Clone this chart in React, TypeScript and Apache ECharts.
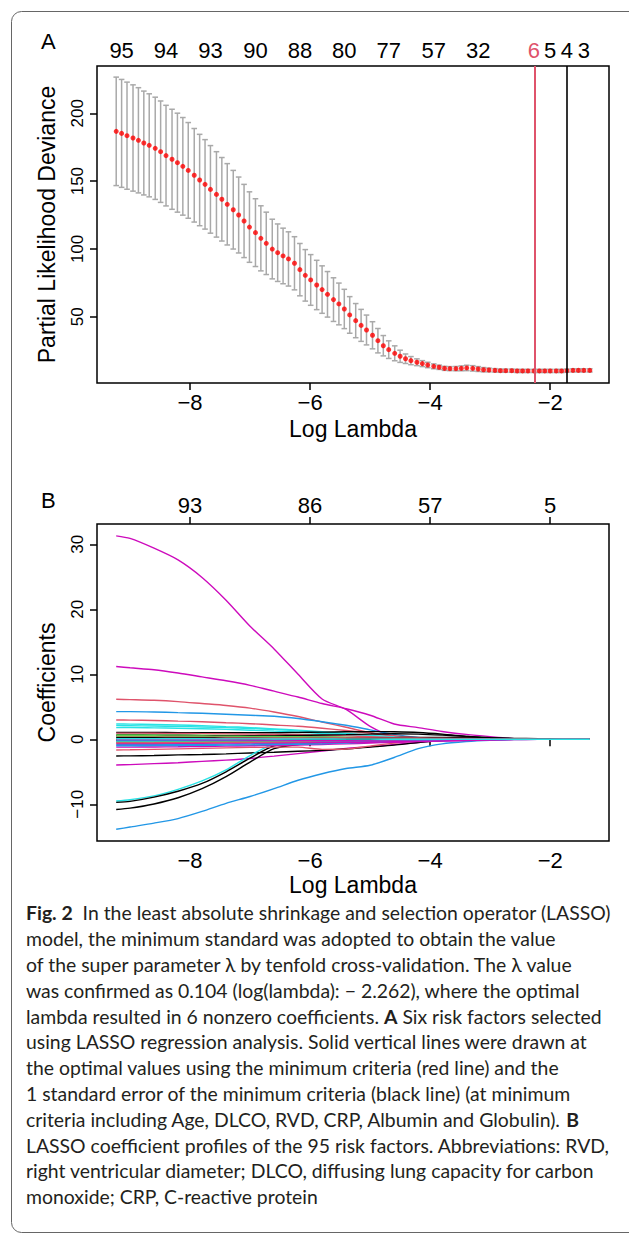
import React, { useEffect, useRef } from "react";
import * as echarts from "echarts";

// ---------- Panel A data (cross-validation curve) ----------
const logLambda = [
  -9.23, -9.14, -9.05, -8.95, -8.86, -8.77, -8.68, -8.58, -8.49, -8.4,
  -8.3, -8.21, -8.12, -8.03, -7.93, -7.84, -7.75, -7.66, -7.56, -7.47,
  -7.38, -7.28, -7.19, -7.1, -7.01, -6.91, -6.82, -6.73, -6.63, -6.54,
  -6.45, -6.36, -6.26, -6.17, -6.08, -5.99, -5.89, -5.8, -5.71, -5.61,
  -5.52, -5.43, -5.34, -5.24, -5.15, -5.06, -4.96, -4.87, -4.78, -4.69,
  -4.59, -4.5, -4.41, -4.32, -4.22, -4.13, -4.04, -3.94, -3.85, -3.76,
  -3.67, -3.57, -3.48, -3.39, -3.29, -3.2, -3.11, -3.02, -2.92, -2.83,
  -2.74, -2.64, -2.55, -2.46, -2.37, -2.27, -2.18, -2.09, -2.0, -1.9,
  -1.81, -1.72, -1.62, -1.53, -1.44, -1.34,
];
const cvMean = [
  186.7, 185.2, 183.5, 181.8, 180.1, 178.1, 176.4, 174.2, 171.7, 168.8,
  166.1, 163.6, 160.9, 157.9, 154.3, 150.8, 147.6, 143.9, 140.2, 136.6,
  132.9, 128.9, 125.0, 120.6, 116.1, 112.0, 107.8, 104.1, 99.9, 97.2,
  94.8, 92.6, 89.4, 84.7, 80.5, 77.1, 73.4, 70.0, 66.5, 62.6,
  59.4, 55.7, 51.3, 47.1, 43.6, 40.2, 36.3, 32.3, 28.6, 25.7,
  23.0, 20.8, 19.0, 17.6, 16.4, 15.4, 14.4, 13.4, 12.7, 11.9,
  11.7, 11.7, 11.9, 12.2, 11.9, 11.4, 10.9, 10.7, 10.4, 10.2,
  10.2, 10.2, 10.0, 10.0, 10.0, 10.0, 10.0, 10.0, 10.0, 10.0,
  10.0, 10.2, 10.4, 10.4, 10.4, 10.4,
];
const cvSd = [
  40, 39.8, 39.5, 39.2, 38.8, 38.3, 38.0, 37.7, 37.4, 37.1,
  36.9, 36.5, 36.0, 35.3, 34.5, 33.7, 33.0, 32.3, 31.5, 30.8,
  30.0, 29.0, 28.0, 27.0, 26.0, 25.0, 24.0, 23.0, 22.0, 21.2,
  20.5, 20.0, 19.6, 19.3, 19.0, 18.7, 18.2, 17.5, 16.8, 16.1,
  15.4, 14.5, 13.5, 12.6, 11.8, 11.0, 10.0, 9.0, 7.5, 6.5,
  5.5, 4.5, 3.5, 3.0, 2.5, 2.2, 2.0, 1.8, 1.6, 1.5,
  1.5, 1.6, 1.8, 2.0, 2.0, 1.8, 1.6, 1.4, 1.3, 1.2,
  1.2, 1.2, 1.2, 1.2, 1.2, 1.2, 1.2, 1.2, 1.2, 1.2,
  1.2, 1.2, 1.2, 1.2, 1.2, 1.2,
];
const nzeroIndex = [1, 9, 17, 25, 33, 41, 49, 57, 65, 75, 78, 81, 84];
const nzeroLabels = ["95", "94", "93", "90", "88", "80", "77", "57", "32", "6", "5", "4", "3"];
const lambdaMinLog = -2.262;
const lambda1seLog = -1.72;
const devianceTicks = [50, 100, 150, 200];

// ---------- Shared x axis ----------
const xTicks = [-8, -6, -4, -2];
const xMin = -9.55;
const xMax = -1.02;

// ---------- Panel B data (coefficient profiles) ----------
const coefTicks = [-10, 0, 10, 20, 30];
const dfTopLabels = ["93", "86", "57", "5"];
const coefLogLambda = [
  -9.23, -9.0, -8.6, -8.2, -7.8, -7.4, -7.0, -6.6, -6.2, -5.8, -5.4,
  -5.0, -4.6, -4.2, -3.8, -3.4, -3.0, -2.6, -2.2, -1.8, -1.34,
];
const pathM1 = [31.3, 30.9, 29.4, 27.6, 24.9, 21.4, 17.4, 13.9, 10.0, 6.2, 4.6, 2.0, 0.4, 0.15, 0.05, 0, 0, 0, 0, 0, 0];
const pathM2 = [11.2, 11.0, 10.7, 10.2, 9.6, 9.0, 8.3, 7.4, 6.5, 5.5, 4.7, 3.7, 2.35, 1.8, 1.2, 0.75, 0.4, 0.1, 0, 0, 0];
const pathR1 = [6.15, 6.1, 6.0, 5.8, 5.5, 5.2, 4.8, 4.2, 3.5, 2.65, 1.85, 1.0, 0.45, 0.15, 0.05, 0, 0, 0, 0, 0, 0];
const pathB1 = [4.25, 4.25, 4.2, 4.1, 4.0, 3.85, 3.7, 3.55, 3.2, 2.7, 2.15, 1.45, 0.75, 0.3, 0.08, 0, 0, 0, 0, 0, 0];
const pathR2 = [2.97, 2.95, 2.9, 2.8, 2.7, 2.55, 2.4, 2.2, 2.0, 1.7, 1.35, 0.95, 0.55, 0.25, 0.08, 0, 0, 0, 0, 0, 0];
const pathC1 = [2.35, 2.33, 2.28, 2.2, 2.1, 1.95, 1.8, 1.6, 1.4, 1.15, 0.9, 0.6, 0.35, 0.15, 0.04, 0, 0, 0, 0, 0, 0];
const pathC2 = [2.1, 2.08, 2.04, 1.98, 1.9, 1.8, 1.66, 1.5, 1.3, 1.06, 0.82, 0.55, 0.3, 0.12, 0.03, 0, 0, 0, 0, 0, 0];
const pathC3 = [1.8, 1.8, 1.75, 1.7, 1.62, 1.52, 1.4, 1.25, 1.1, 0.9, 0.7, 0.45, 0.25, 0.1, 0.02, 0, 0, 0, 0, 0, 0];
const pathKL = [-2.57, -2.55, -2.5, -2.4, -2.35, -2.25, -2.1, -2.0, -1.85, -1.7, -1.5, -1.2, -0.9, -0.5, -0.2, -0.05, 0, 0, 0, 0, 0];
const pathML = [-3.95, -3.9, -3.75, -3.6, -3.4, -3.2, -2.95, -2.6, -2.2, -1.8, -1.4, -1.15, -0.8, -0.5, -0.25, -0.1, 0, 0, 0, 0, 0];
const pathC4 = [-9.5, -9.3, -8.7, -7.7, -6.4, -4.7, -2.5, -0.7, -0.3, -0.2, -0.12, -0.06, -0.02, 0, 0, 0, 0, 0, 0, 0, 0];
const pathK3 = [-9.7, -9.55, -8.9, -8.0, -6.8, -5.0, -2.9, -1.0, -0.6, -0.4, -0.27, -0.2, -0.1, -0.05, 0, 0, 0, 0, 0, 0, 0];
const pathK4 = [-10.8, -10.6, -9.95, -9.0, -7.6, -5.75, -3.5, -1.45, -0.8, -0.5, -0.35, -0.2, -0.1, 0, 0, 0, 0, 0, 0, 0, 0];
const pathB5 = [-13.85, -13.5, -12.9, -12.2, -11.1, -9.85, -8.8, -7.6, -6.3, -5.3, -4.5, -4.0, -2.8, -1.45, -0.7, -0.35, -0.15, -0.05, 0, 0, 0];
const pathK1 = [1.05, 1.05, 1.04, 1.03, 1.02, 1.0, 1.0, 1.0, 1.05, 1.1, 1.15, 1.18, 1.15, 1.05, 0.8, 0.45, 0.15, 0.03, 0, 0, 0];
const pathK2 = [0.95, 0.95, 0.93, 0.9, 0.87, 0.83, 0.8, 0.76, 0.7, 0.62, 0.52, 0.4, 0.25, 0.1, 0.02, 0, 0, 0, 0, 0, 0];
const pathK3b = [0.7, 0.7, 0.68, 0.65, 0.62, 0.58, 0.54, 0.5, 0.45, 0.38, 0.3, 0.2, 0.1, 0.03, 0, 0, 0, 0, 0, 0, 0];
const pathK4b = [0.5, 0.5, 0.48, 0.46, 0.44, 0.42, 0.4, 0.37, 0.33, 0.28, 0.22, 0.15, 0.07, 0.02, 0, 0, 0, 0, 0, 0, 0];
const pathK5 = [0.35, 0.35, 0.34, 0.33, 0.32, 0.3, 0.28, 0.26, 0.23, 0.2, 0.16, 0.11, 0.06, 0.02, 0, 0, 0, 0, 0, 0, 0];
const pathK6 = [-0.25, -0.25, -0.26, -0.27, -0.28, -0.3, -0.32, -0.34, -0.36, -0.38, -0.4, -0.4, -0.35, -0.25, -0.12, -0.04, 0, 0, 0, 0, 0];
const pathK7 = [0.6, 0.6, 0.6, 0.58, 0.56, 0.55, 0.55, 0.56, 0.6, 0.65, 0.72, 0.8, 0.85, 0.8, 0.65, 0.45, 0.25, 0.1, 0.03, 0, 0];
const pathK8 = [-1.65, -1.62, -1.55, -1.48, -1.4, -1.32, -1.25, -1.2, -1.2, -1.55, -1.5, -1.05, -0.6, -0.25, -0.06, 0, 0, 0, 0, 0, 0];
const pathK9 = [0.15, 0.15, 0.15, 0.14, 0.13, 0.12, 0.11, 0.1, 0.09, 0.08, 0.06, 0.04, 0.02, 0, 0, 0, 0, 0, 0, 0, 0];
const pathK10 = [-0.85, -0.85, -0.83, -0.8, -0.77, -0.74, -0.7, -0.66, -0.6, -0.52, -0.43, -0.32, -0.2, -0.08, -0.02, 0, 0, 0, 0, 0, 0];
const pathK11 = [-0.35, -0.35, -0.34, -0.33, -0.32, -0.3, -0.28, -0.25, -0.22, -0.18, -0.14, -0.1, -0.05, -0.01, 0, 0, 0, 0, 0, 0, 0];
const pathK12 = [-1.2, -1.2, -1.18, -1.15, -1.1, -1.05, -1.0, -0.95, -0.88, -0.8, -0.7, -0.58, -0.45, -0.3, -0.15, -0.05, -0.01, 0, 0, 0, 0];
const pathK13 = [0.25, 0.25, 0.25, 0.24, 0.23, 0.22, 0.21, 0.2, 0.19, 0.18, 0.16, 0.12, 0.07, 0.02, 0, 0, 0, 0, 0, 0, 0];
const pathK14 = [0.45, 0.45, 0.44, 0.43, 0.42, 0.4, 0.38, 0.36, 0.33, 0.3, 0.25, 0.18, 0.1, 0.03, 0, 0, 0, 0, 0, 0, 0];
const pathK15 = [-0.45, -0.45, -0.44, -0.42, -0.4, -0.38, -0.35, -0.32, -0.28, -0.23, -0.17, -0.1, -0.04, 0, 0, 0, 0, 0, 0, 0, 0];
const pathK16 = [-1.0, -1.0, -0.98, -0.96, -0.93, -0.9, -0.86, -0.82, -0.76, -0.68, -0.58, -0.45, -0.3, -0.15, -0.04, 0, 0, 0, 0, 0, 0];
const pathK17 = [0.05, 0.05, 0.05, 0.05, 0.05, 0.04, 0.04, 0.04, 0.03, 0.03, 0.02, 0.01, 0, 0, 0, 0, 0, 0, 0, 0, 0];
const pathK18 = [-0.65, -0.65, -0.64, -0.62, -0.6, -0.58, -0.56, -0.54, -0.52, -0.5, -0.48, -0.46, -0.42, -0.35, -0.25, -0.14, -0.06, -0.02, 0, 0, 0];
const pathK19 = [-0.1, -0.1, -0.1, -0.1, -0.1, -0.1, -0.1, -0.1, -0.1, -0.09, -0.08, -0.06, -0.04, -0.02, 0, 0, 0, 0, 0, 0, 0];
const pathK20 = [-0.55, -0.55, -0.54, -0.52, -0.5, -0.48, -0.45, -0.42, -0.38, -0.33, -0.27, -0.2, -0.12, -0.05, -0.01, 0, 0, 0, 0, 0, 0];
const pathK21 = [0.55, 0.55, 0.54, 0.52, 0.5, 0.48, 0.45, 0.42, 0.38, 0.33, 0.27, 0.2, 0.12, 0.05, 0.01, 0, 0, 0, 0, 0, 0];
const pathK22 = [-0.2, -0.2, -0.2, -0.2, -0.2, -0.2, -0.2, -0.2, -0.21, -0.22, -0.24, -0.26, -0.28, -0.26, -0.2, -0.12, -0.05, -0.01, 0, 0, 0];
const pathK23 = [0.05, 0.05, 0.05, 0.05, 0.06, 0.06, 0.07, 0.08, 0.1, 0.12, 0.15, 0.2, 0.25, 0.3, 0.3, 0.25, 0.2, 0.14, 0.08, 0.03, 0.01];
const pathK24 = [-0.05, -0.05, -0.05, -0.06, -0.07, -0.08, -0.1, -0.12, -0.15, -0.18, -0.22, -0.27, -0.3, -0.3, -0.25, -0.18, -0.1, -0.05, -0.02, 0, 0];
const pathK25 = [0.1, 0.1, 0.1, 0.1, 0.1, 0.11, 0.12, 0.13, 0.15, 0.17, 0.2, 0.22, 0.22, 0.2, 0.16, 0.12, 0.08, 0.05, 0.03, 0.01, 0];
const pathK26 = [0.08, 0.08, 0.08, 0.07, 0.07, 0.06, 0.06, 0.05, 0.05, 0.04, 0.03, 0.02, 0.01, 0, 0, 0, 0, 0, 0, 0, 0];

// R default palette (matplot cycles colours 1:6)
const rPalette = ["#000000", "#DF536B", "#61D04F", "#2297E6", "#28E2E5", "#CD0BBC"];
const coefPaths: [number[], number][] = [
  [pathM1, 5], [pathM2, 5], [pathR1, 1], [pathB1, 3], [pathR2, 1],
  [pathC1, 4], [pathC2, 4], [pathC3, 4], [pathML, 5], [pathKL, 0],
  [pathB5, 3], [pathC4, 4], [pathK3, 0], [pathK4, 0],
  [pathK1, 0], [pathK2, 1], [pathK3b, 2], [pathK4b, 3], [pathK5, 4], [pathK6, 5],
  [pathK7, 0], [pathK8, 1], [pathK9, 2], [pathK10, 3], [pathK11, 4], [pathK12, 5],
  [pathK13, 0], [pathK14, 1], [pathK15, 2], [pathK16, 3], [pathK17, 4], [pathK18, 5],
  [pathK19, 0], [pathK20, 1], [pathK21, 2], [pathK22, 3], [pathK23, 0], [pathK24, 5],
  [pathK25, 1], [pathK26, 4],
];

const captionLines = [
  "{b|Fig. 2}  In the least absolute shrinkage and selection operator (LASSO)",
  "model, the minimum standard was adopted to obtain the value",
  "of the super parameter λ by tenfold cross-validation. The λ value",
  "was confirmed as 0.104 (log(lambda): − 2.262), where the optimal",
  "lambda resulted in 6 nonzero coefficients. {b|A} Six risk factors selected",
  "using LASSO regression analysis. Solid vertical lines were drawn at",
  "the optimal values using the minimum criteria (red line) and the",
  "1 standard error of the minimum criteria (black line) (at minimum",
  "criteria including Age, DLCO, RVD, CRP, Albumin and Globulin). {b|B}",
  "LASSO coefficient profiles of the 95 risk factors. Abbreviations: RVD,",
  "right ventricular diameter; DLCO, diffusing lung capacity for carbon",
  "monoxide; CRP, C-reactive protein",
];

const AXIS_FONT = "Liberation Sans, Arial, sans-serif";
const CAP_FONT = "Lato, Noto Sans, sans-serif";
const minus = (v: number) => String(v).replace("-", "\u2212");

export default function App() {
  const ref = useRef<HTMLDivElement>(null);
  useEffect(() => {
    if (!ref.current) return;
    const chart = echarts.init(ref.current, null, { renderer: "svg" });

    const nzeroPos = nzeroIndex.map((i) => logLambda[i]);
    const errData = logLambda.map((x, i) => [x, cvMean[i] - cvSd[i], cvMean[i] + cvSd[i]]);
    const meanData = logLambda.map((x, i) => [x, cvMean[i]]);

    const bottomAxis = (gridIndex: number, gap: number) => ({
      type: "value", gridIndex, position: "bottom", min: xMin, max: xMax,
      axisLine: { show: false }, splitLine: { show: false },
      axisTick: { show: true, inside: false, length: 7, customValues: xTicks, lineStyle: { color: "#000", width: 1.5 } },
      axisLabel: { customValues: xTicks, formatter: minus, fontFamily: AXIS_FONT, fontSize: 22, color: "#000", margin: 8 },
      name: "Log Lambda", nameLocation: "middle", nameGap: gap,
      nameTextStyle: { fontFamily: AXIS_FONT, fontSize: 23, color: "#000" },
    });

    const option: any = {
      animation: false,
      backgroundColor: "#fff",
      grid: [
        { left: 97, top: 66, width: 512, height: 317, show: true, borderColor: "#000", borderWidth: 1.5, backgroundColor: "transparent" },
        { left: 97, top: 524, width: 512, height: 317, show: true, borderColor: "#000", borderWidth: 1.5, backgroundColor: "transparent" },
      ],
      xAxis: [
        bottomAxis(0, 34),
        {
          type: "value", gridIndex: 0, position: "top", min: xMin, max: xMax,
          axisLine: { show: false }, splitLine: { show: false }, axisTick: { show: false },
          axisLabel: {
            customValues: nzeroPos,
            formatter: (v: number) => {
              const k = nzeroPos.findIndex((p) => Math.abs(p - v) < 1e-6);
              return k >= 0 ? nzeroLabels[k] : "";
            },
            color: (v: number) => (Math.abs(v - logLambda[75]) < 1e-6 ? "#DF536B" : "#000"),
            fontFamily: AXIS_FONT, fontSize: 22, margin: 5,
          },
        },
        bottomAxis(1, 32),
        {
          type: "value", gridIndex: 1, position: "top", min: xMin, max: xMax,
          axisLine: { show: false }, splitLine: { show: false },
          axisTick: { show: true, inside: false, length: 7, customValues: xTicks, lineStyle: { color: "#000", width: 1.5 } },
          axisLabel: {
            customValues: xTicks,
            formatter: (v: number) => dfTopLabels[xTicks.indexOf(v)] ?? "",
            fontFamily: AXIS_FONT, fontSize: 22, color: "#000", margin: 8,
          },
        },
      ],
      yAxis: [
        {
          type: "value", gridIndex: 0, min: 1.1, max: 234.9,
          axisLine: { show: false }, splitLine: { show: false },
          axisTick: { show: true, inside: false, length: 7, customValues: devianceTicks, lineStyle: { color: "#000", width: 1.5 } },
          axisLabel: { customValues: devianceTicks, rotate: 90, fontFamily: AXIS_FONT, fontSize: 17, color: "#000", margin: 11 },
          name: "Partial Likelihood Deviance", nameLocation: "middle", nameGap: 39,
          nameTextStyle: { fontFamily: AXIS_FONT, fontSize: 23, color: "#000" },
        },
        {
          type: "value", gridIndex: 1, min: -15.65, max: 33.12,
          axisLine: { show: false }, splitLine: { show: false },
          axisTick: { show: true, inside: false, length: 7, customValues: coefTicks, lineStyle: { color: "#000", width: 1.5 } },
          axisLabel: { customValues: coefTicks, rotate: 90, formatter: minus, fontFamily: AXIS_FONT, fontSize: 17, color: "#000", margin: 11 },
          name: "Coefficients", nameLocation: "middle", nameGap: 39,
          nameTextStyle: { fontFamily: AXIS_FONT, fontSize: 23, color: "#000" },
        },
      ],
      series: [
        {
          type: "custom", xAxisIndex: 0, yAxisIndex: 0, data: errData, encode: { x: 0, y: [1, 2] }, z: 2,
          renderItem: (params: any, api: any) => {
            const x = api.value(0);
            const lo = api.coord([x, api.value(1)]);
            const hi = api.coord([x, api.value(2)]);
            const st = { stroke: "#A9A9A9", lineWidth: 1.5 };
            const hw = 2.8;
            return {
              type: "group",
              children: [
                { type: "line", shape: { x1: hi[0], y1: hi[1], x2: lo[0], y2: lo[1] }, style: st },
                { type: "line", shape: { x1: hi[0] - hw, y1: hi[1], x2: hi[0] + hw, y2: hi[1] }, style: st },
                { type: "line", shape: { x1: lo[0] - hw, y1: lo[1], x2: lo[0] + hw, y2: lo[1] }, style: st },
              ],
            };
          },
        },
        {
          type: "scatter", xAxisIndex: 0, yAxisIndex: 0, data: meanData, symbol: "circle", symbolSize: 5,
          itemStyle: { color: "#FF0000" }, z: 4,
          markLine: {
            silent: true, symbol: ["none", "none"], label: { show: false }, animation: false,
            data: [
              { xAxis: lambdaMinLog, lineStyle: { color: "#DF536B", width: 2, type: "solid" } },
              { xAxis: lambda1seLog, lineStyle: { color: "#000", width: 1.6, type: "solid" } },
            ],
          },
        },
        ...coefPaths.map(([vals, ci], k) => ({
          type: "line", xAxisIndex: 2, yAxisIndex: 1, showSymbol: false, smooth: 0.25,
          data: coefLogLambda.map((x, i) => [x, vals[i]]),
          lineStyle: { color: rPalette[ci], width: 1.4 }, z: 3 + k * 0.001,
        })),
      ],
      graphic: [
        { type: "rect", shape: { x: 11.5, y: 11.5, width: 640, height: 1221, r: 10 }, style: { fill: "none", stroke: "#666", lineWidth: 1 }, silent: true },
        { type: "text", left: 41, top: 30, style: { text: "A", fontFamily: AXIS_FONT, fontSize: 22, fill: "#000" } },
        { type: "text", left: 41, top: 489, style: { text: "B", fontFamily: AXIS_FONT, fontSize: 22, fill: "#000" } },
        {
          type: "text", left: 26, top: 900,
          style: {
            text: captionLines.join("\n"), fontFamily: CAP_FONT, fontSize: 19.4, lineHeight: 25.8, fill: "#231F20",
            rich: { b: { fontFamily: CAP_FONT, fontSize: 19.4, fontWeight: "bold", lineHeight: 25.8, fill: "#231F20" } },
          },
        },
      ],
    };
    chart.setOption(option);
    return () => chart.dispose();
  }, []);
  return <div ref={ref} style={{ position: "absolute", left: 0, top: 0, width: 629, height: 1234 }} />;
}
